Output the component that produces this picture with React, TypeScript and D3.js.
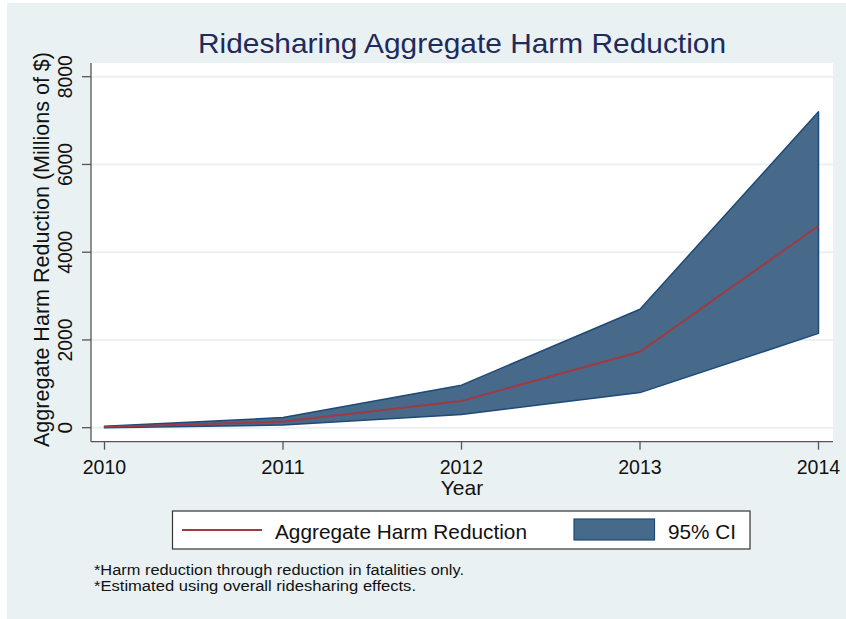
import React from "react";
import * as d3 from "d3";

const years = [2010, 2011, 2012, 2013, 2014];
const meanValues = [15, 140, 610, 1730, 4600];
const lowerValues = [0, 60, 300, 800, 2150];
const upperValues = [35, 230, 970, 2700, 7200];
const yTicks = [0, 2000, 4000, 6000, 8000];
const titleText = "Ridesharing Aggregate Harm Reduction";
const yTitle = "Aggregate Harm Reduction (Millions of $)";
const xTitle = "Year";
const legendLabels = ["Aggregate Harm Reduction", "95% CI"];
const notes = [
  "*Harm reduction through reduction in fatalities only.",
  "*Estimated using overall ridesharing effects.",
];

const W = 846;
const H = 619;
const BG = "#eaf1f3";
const FILL = "#486a8a";
const EDGE = "#1d4a78";
const RED = "#9e3a44";
const FONT = "'Liberation Sans', Arial, sans-serif";

export default function App() {
  const x = d3.scaleLinear().domain([2010, 2014]).range([104.5, 818.5]);
  const y = d3.scaleLinear().domain([0, 8000]).range([427.7, 76.7]);
  const plotL = 91, plotR = 833, plotT = 63, plotB = 441.7;

  const data = years.map((yr, i) => ({
    yr,
    m: meanValues[i],
    lo: lowerValues[i],
    hi: upperValues[i],
  }));
  const area = d3
    .area<any>()
    .x((d) => x(d.yr))
    .y0((d) => y(d.lo))
    .y1((d) => y(d.hi));
  const line = d3
    .line<any>()
    .x((d) => x(d.yr))
    .y((d) => y(d.m));

  const fit = (w: number) => ({ textLength: w, lengthAdjust: "spacingAndGlyphs" as const });

  return (
    <svg
      width={W}
      height={H}
      style={{ position: "absolute", left: 0, top: 0, display: "block" }}
      fontFamily={FONT}
    >
      <rect x={0} y={0} width={W} height={H} fill="#ffffff" />
      <rect x={7} y={3} width={W - 7} height={H - 3} fill={BG} />
      <rect x={plotL} y={plotT} width={plotR - plotL} height={plotB - plotT} fill="#ffffff" />
      {yTicks.map((t) => (
        <line key={"g" + t} x1={plotL} x2={plotR} y1={y(t)} y2={y(t)} stroke={BG} strokeWidth={2} />
      ))}
      <path d={area(data) || ""} fill={FILL} stroke={EDGE} strokeWidth={1.5} strokeLinejoin="round" />
      <path d={line(data) || ""} fill="none" stroke={RED} strokeWidth={2} />
      {/* axes */}
      <line x1={plotL} x2={plotL} y1={plotT} y2={plotB} stroke="#555" strokeWidth={1.3} />
      <line x1={plotL} x2={plotR} y1={plotB} y2={plotB} stroke="#555" strokeWidth={1.3} />
      {yTicks.map((t) => (
        <g key={"yt" + t}>
          <line x1={plotL - 9} x2={plotL} y1={y(t)} y2={y(t)} stroke="#555" strokeWidth={1.3} />
          <text
            transform={`translate(71.5,${y(t)}) rotate(-90)`}
            textAnchor="middle"
            fontSize={21}
            fill="#111"
            {...(String(t).length > 1 ? fit(43) : {})}
          >
            {t}
          </text>
        </g>
      ))}
      {years.map((yr) => (
        <g key={"xt" + yr}>
          <line x1={x(yr)} x2={x(yr)} y1={plotB} y2={plotB + 8} stroke="#555" strokeWidth={1.3} />
          <text x={x(yr)} y={473.5} textAnchor="middle" fontSize={20} fill="#111" {...fit(43.5)}>
            {yr}
          </text>
        </g>
      ))}
      <text x={462} y={494.5} textAnchor="middle" fontSize={21} fill="#111">
        {xTitle}
      </text>
      <text
        transform={`translate(49,249.5) rotate(-90)`}
        textAnchor="middle"
        fontSize={22}
        fill="#111"
        {...fit(395)}
      >
        {yTitle}
      </text>
      <text x={462} y={53} textAnchor="middle" fontSize={28} fill="#1e2b5c" {...fit(528)}>
        {titleText}
      </text>
      {/* legend */}
      <rect x={172.5} y={511} width={577.5} height={38} fill="#ffffff" stroke="#333" strokeWidth={1.2} />
      <line x1={182} x2={262} y1={530} y2={530} stroke={RED} strokeWidth={2} />
      <text x={275} y={538.5} fontSize={21} fill="#111" {...fit(252)}>
        {legendLabels[0]}
      </text>
      <rect x={574} y={519} width={80.5} height={21} fill={FILL} stroke={EDGE} strokeWidth={1.2} />
      <text x={668} y={538.5} fontSize={21} fill="#111" {...fit(68)}>
        {legendLabels[1]}
      </text>
      <text x={94} y={575} fontSize={15.5} fill="#111" {...fit(370)}>
        {notes[0]}
      </text>
      <text x={94} y={591} fontSize={15.5} fill="#111" {...fit(322)}>
        {notes[1]}
      </text>
    </svg>
  );
}
